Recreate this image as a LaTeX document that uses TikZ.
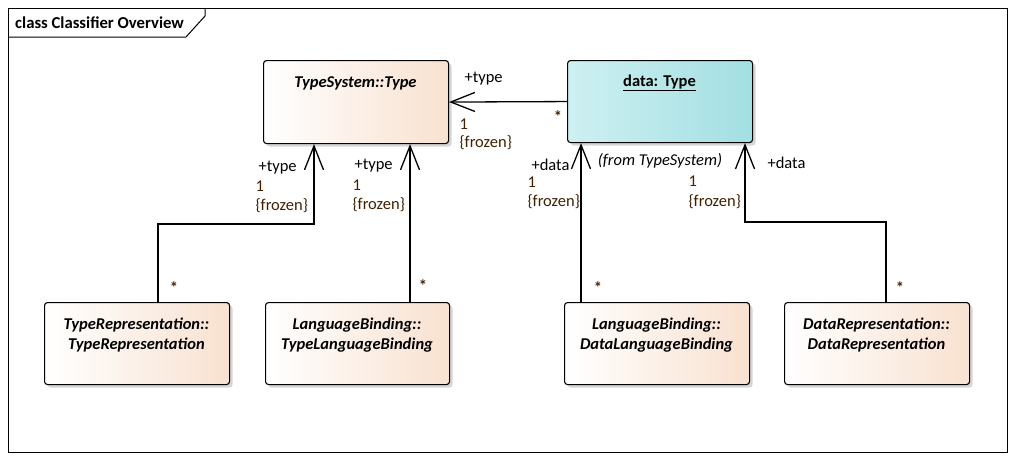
\documentclass[tikz,border=0pt]{standalone}
\usepackage{fontspec}
\setmainfont{Carlito}
\usetikzlibrary{arrows.meta,shadows}

\definecolor{peach}{RGB}{248,225,208}
\definecolor{aquadark}{RGB}{163,223,226}
\definecolor{aqualight}{RGB}{206,240,242}
\definecolor{multbrown}{RGB}{64,32,0}

\begin{document}
\begin{tikzpicture}[x=1pt, y=-1pt,
  cls/.style={draw, line width=1.1pt, rounded corners=3pt, anchor=north west,
              left color=white, right color=peach, minimum width=185pt, minimum height=83pt,
              drop shadow={shadow xshift=3pt, shadow yshift=-3pt, fill=black!16, opacity=1}},
  inst/.style={cls, left color=aqualight, right color=aquadark},
  ctitle/.style={font=\fontsize{16.5}{20}\selectfont\bfseries\itshape, align=center},
  role/.style={anchor=base west, font=\fontsize{16.5}{19}\selectfont},
  mult/.style={role, text=multbrown},
  star/.style={font=\fontsize{16.5}{19}\selectfont\bfseries, text=multbrown},
  assoc/.style={line width=1.3pt, -{Straight Barb[length=24pt, width=19pt, line width=1.3pt]}}]
  \useasboundingbox (0,0) rectangle (1022,461);

  % frame
  \draw[line width=1pt] (8,8) rectangle (1007,452);
  \draw[line width=1pt] (8,37) -- (186,37) -- (205,16) -- (205,8);
  \node[anchor=west, inner sep=0pt, font=\fontsize{16.7}{19}\selectfont\bfseries] (frametitle) at (15,23) {class Classifier Overview};

  % classes
  \node[cls] (tsys) at (263,60) {};
  \node[inst, minimum height=82pt] (dtype) at (567,60) {};
  \node[cls, minimum height=82pt] (trep) at (44,302) {};
  \node[cls, minimum width=184pt, minimum height=82pt] (tlb) at (265,302) {};
  \node[cls, minimum height=82pt] (dlb) at (564,302) {};
  \node[cls, minimum height=82pt] (drep) at (784,302) {};

  \node[ctitle] (tsys-t) at (355.5,83) {TypeSystem::Type};
  \node[ctitle, font=\fontsize{16.5}{20}\selectfont\bfseries] (dtype-t) at (659.5,83) {\underline{data: Type}};
  \node[font=\fontsize{16.5}{19}\selectfont\itshape] (dtype-from) at (660,161) {(from TypeSystem)};
  \node[ctitle] (trep-t) at (136.5,335) {TypeRepresentation::\\TypeRepresentation};
  \node[ctitle] (tlb-t) at (357,335) {LanguageBinding::\\TypeLanguageBinding};
  \node[ctitle] (dlb-t) at (656.5,335) {LanguageBinding::\\DataLanguageBinding};
  \node[ctitle] (drep-t) at (876.5,335) {DataRepresentation::\\DataRepresentation};

  % associations
  \draw[assoc] (dtype.west) -- (tsys.east);
  \draw[assoc] ([xshift=114pt]trep.north west) -- ++(0,-78) -| ([xshift=51pt]tsys.south west);
  \draw[assoc] ([xshift=145pt]tlb.north west) -- ([xshift=147pt]tsys.south west);
  \draw[assoc] ([xshift=17pt]dlb.north west) -- ([xshift=14pt]dtype.south west);
  \draw[assoc] ([xshift=102pt]drep.north west) -- ++(0,-80) -| ([xshift=178pt]dtype.south west);

  % ends
  \node[role] (r0) at (461,82) {+type};
  \node[mult] (m0) at (456,129) {1};
  \node[mult] (f0) at (456,147) {\{frozen\}};
  \node[star] (s0) at (558,117) {*};

  \node[role] (r1) at (255,171) {+type};
  \node[mult] (m1) at (252,191) {1};
  \node[mult] (f1) at (252,210) {\{frozen\}};
  \node[star] (s1) at (174,288) {*};

  \node[role] (r2) at (351,169) {+type};
  \node[mult] (m2) at (349,190) {1};
  \node[mult] (f2) at (349,209) {\{frozen\}};
  \node[star] (s2) at (423,286) {*};

  \node[role] (r3) at (528,170) {+data};
  \node[mult] (m3) at (524,187) {1};
  \node[mult] (f3) at (524,206) {\{frozen\}};
  \node[star] (s3) at (598,288) {*};

  \node[role] (r4) at (764,168) {+data};
  \node[mult] (m4) at (685,186) {1};
  \node[mult] (f4) at (685,206) {\{frozen\}};
  \node[star] (s4) at (900,288) {*};
\end{tikzpicture}
\end{document}
